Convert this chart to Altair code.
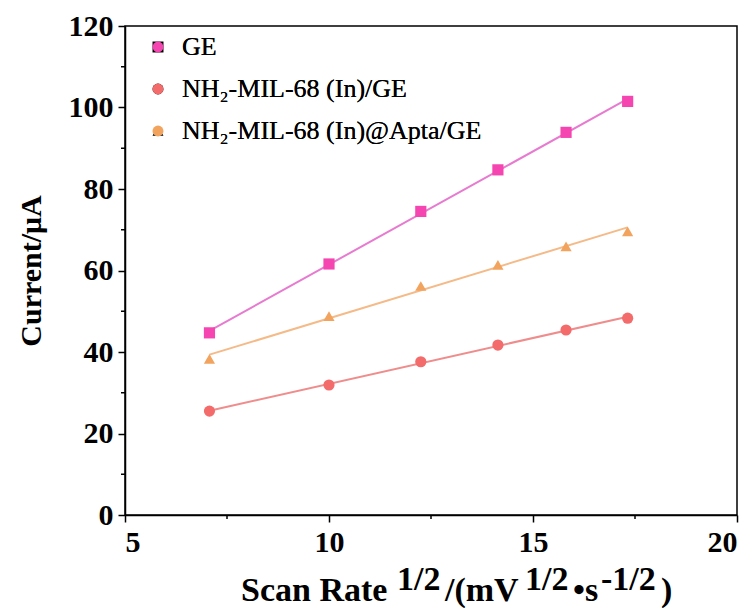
import altair as alt
import pandas as pd

# ---- data ----
scan_rate_sqrt = [7.07, 10.0, 12.25, 14.14, 15.81, 17.32]
series_names = ["GE", "NH₂-MIL-68 (In)/GE", "NH₂-MIL-68 (In)@Apta/GE"]
ge_current = [44.7, 61.6, 74.5, 84.7, 93.9, 101.5]
mil_current = [25.5, 31.9, 37.6, 41.7, 45.4, 48.3]
apta_current = [38.3, 48.8, 56.2, 61.4, 65.9, 69.6]

marker_colors = ["#F545B0", "#F36B6B", "#F2A35E"]
line_colors = ["#E77BD0", "#EF8C8C", "#F4BA88"]
shapes = ["square", "circle", "triangle-up"]

title_pieces = ["Scan Rate", "1/2", "/(mV", "1/2", "•s", "-1/2", ")"]
title_raised = [False, True, False, True, False, True, False]
title_x = [116, 272, 320, 400, 448, 476, 536]

rows = []
for name, vals in zip(series_names, [ge_current, mil_current, apta_current]):
    for x, y in zip(scan_rate_sqrt, vals):
        rows.append({"series": name, "x": x, "y": y})
df = pd.DataFrame(rows)

W, H = 612, 489
FONT = "Liberation Serif"

xscale = alt.Scale(domain=[5, 20], nice=False, zero=False)
yscale = alt.Scale(domain=[0, 120], nice=False)

base = alt.Chart(df)

lines = base.transform_regression(
    "x", "y", groupby=["series"]
).mark_line(strokeWidth=2).encode(
    x=alt.X("x:Q", scale=xscale,
            axis=alt.Axis(values=[5, 10, 15, 20], title=None, format="d")),
    y=alt.Y("y:Q", scale=yscale,
            axis=alt.Axis(values=[0, 20, 40, 60, 80, 100, 120], title="Current/μA",
                          titleFontSize=30, titlePadding=22)),
    color=alt.Color("series:N", scale=alt.Scale(domain=series_names, range=line_colors),
                    legend=None),
)

leg = alt.Legend(title=None, orient="none", legendX=20, legendY=8,
                 labelFontSize=26, labelFont=FONT, labelFontWeight="normal",
                 labelLimit=600, symbolSize=120, rowPadding=16, labelOffset=11,
                 symbolStrokeWidth=0)

points = base.mark_point(filled=True, size=125, opacity=1).encode(
    x=alt.X("x:Q", scale=xscale),
    y=alt.Y("y:Q", scale=yscale),
    color=alt.Color("series:N", scale=alt.Scale(domain=series_names, range=marker_colors),
                    legend=leg),
    shape=alt.Shape("series:N", scale=alt.Scale(domain=series_names, range=shapes),
                    legend=leg),
)

minor_y = pd.DataFrame({"v": [10, 30, 50, 70, 90, 110]})
minor_x = pd.DataFrame({"v": [7.5, 12.5, 17.5]})
minor_y_ticks = alt.Chart(minor_y).mark_rule(color="black", strokeWidth=1.5).encode(
    y=alt.Y("v:Q", scale=yscale), x=alt.value(-4), x2=alt.value(0))
minor_x_ticks = alt.Chart(minor_x).mark_rule(color="black", strokeWidth=1.5).encode(
    x=alt.X("v:Q", scale=xscale), y=alt.value(H), y2=alt.value(H + 4))

title_layers = []
for txt, raised, px in zip(title_pieces, title_raised, title_x):
    title_layers.append(
        alt.Chart(pd.DataFrame({"t": [txt]})).mark_text(
            font=FONT, fontWeight="bold", fontSize=34, align="left",
            baseline="alphabetic", color="black"
        ).encode(text="t:N", x=alt.value(px), y=alt.value(564 if raised else 575))
    )

chart = alt.layer(lines, points, minor_y_ticks, minor_x_ticks, *title_layers).resolve_scale(
    color="independent"
).properties(
    width=W, height=H,
    autosize=alt.AutoSizeParams(type="none"),
    padding={"left": 117, "top": 18, "right": 10, "bottom": 93},
).configure_view(
    stroke="black", strokeWidth=1.5
).configure_axis(
    labelFont=FONT, labelFontWeight="bold", labelFontSize=30, labelColor="black",
    titleFont=FONT, titleFontWeight="bold", titleColor="black",
    domainColor="black", domainWidth=1.5, tickColor="black", tickWidth=1.5,
    tickSize=7, grid=False, labelPadding=5,
).configure_legend(
    labelColor="black", labelFontWeight="normal"
)

chart.save("out.html", embed_options={"renderer": "svg", "actions": False})
